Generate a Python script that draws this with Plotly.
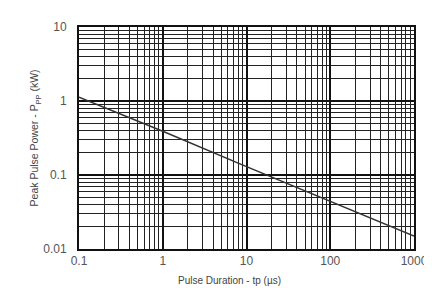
import plotly.graph_objects as go

pulse_duration_us = [0.1, 1, 10, 100, 1000]
peak_power_kw = [1.13, 0.39, 0.13, 0.044, 0.0149]

x_ticks = [0.1, 1, 10, 100, 1000]
x_tick_labels = ["0.1", "1", "10", "100", "1000"]
y_ticks = [0.01, 0.1, 1, 10]
y_tick_labels = ["0.01", "0.1", "1", "10"]

FONT = "Liberation Sans, Arial, sans-serif"

fig = go.Figure()
fig.add_trace(go.Scatter(x=pulse_duration_us, y=peak_power_kw, mode="lines",
                         line=dict(color="#333333", width=1.5), showlegend=False))

axis_common = dict(
    type="log", showline=True, linecolor="#111111", linewidth=2, mirror=True,
    showgrid=True, gridcolor="#111111", gridwidth=2, ticks="", zeroline=False,
    ticklabeloverflow="allow",
    tickfont=dict(family=FONT, size=12, color="#555555"),
    minor=dict(showgrid=True, gridcolor="#222222", gridwidth=1.4, dtick="D1", ticks=""),
)

fig.update_xaxes(**axis_common, range=[-1, 3], tickvals=x_ticks, ticktext=x_tick_labels)
fig.update_yaxes(**axis_common, range=[-2, 1], tickvals=y_ticks, ticktext=y_tick_labels,
                 ticklabelstandoff=8)

fig.add_annotation(text="Pulse Duration - tp (µs)", xref="paper", yref="paper",
                   x=0.448, y=-0.142, xanchor="center", yanchor="middle", showarrow=False,
                   font=dict(family=FONT, size=10, color="#444444"))
fig.add_annotation(text="Peak Pulse Power - P<sub>PP</sub> (kW)", xref="paper", yref="paper",
                   x=-0.13, y=0.5, xanchor="center", yanchor="middle", showarrow=False,
                   textangle=-90, font=dict(family=FONT, size=10.5, color="#444444"))

fig.update_layout(width=432, height=288, margin=dict(l=71, r=13, t=16, b=47),
                  paper_bgcolor="white", plot_bgcolor="white")
fig.write_html("out.html")
